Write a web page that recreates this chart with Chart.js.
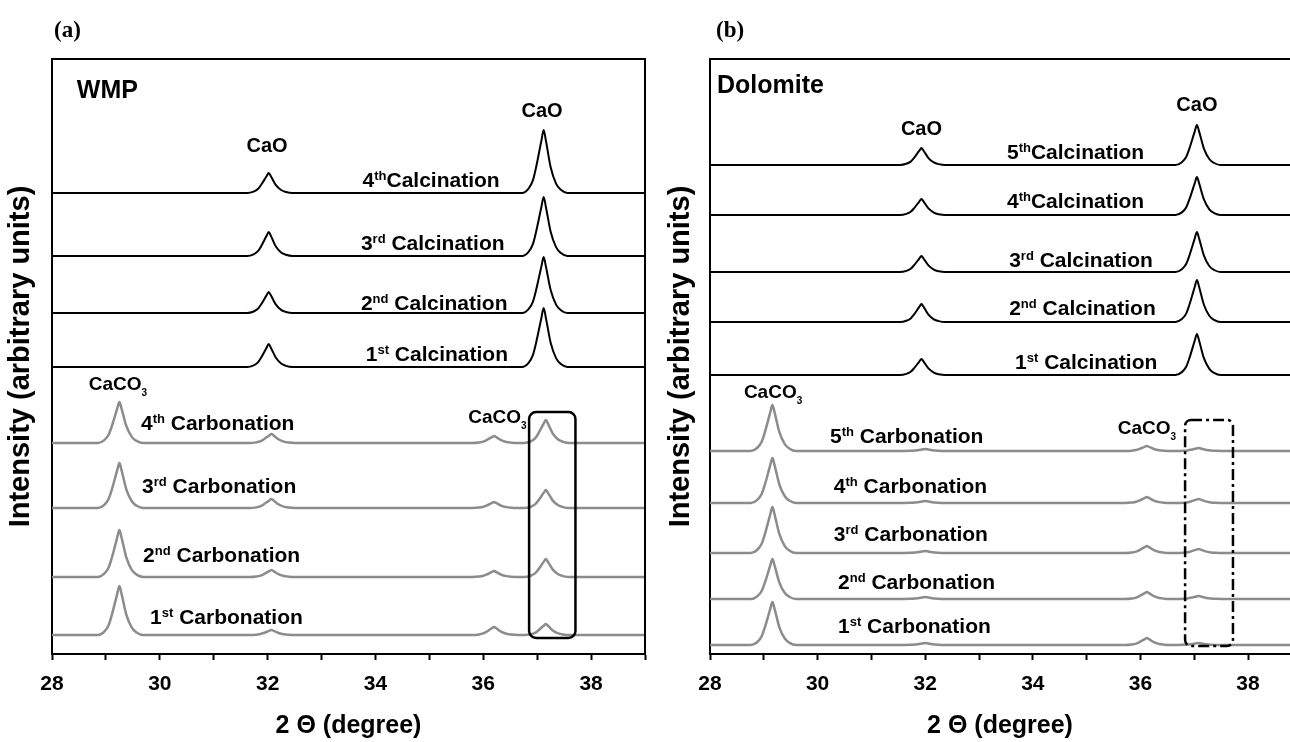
<!DOCTYPE html>
<html>
<head>
<meta charset="utf-8">
<script src="https://cdn.jsdelivr.net/npm/chart.js@4.4.0/dist/chart.umd.min.js"></script>
<style>
  body { margin: 0; background: #fff; width: 1290px; height: 742px; overflow: hidden; position: relative; }
  .panel { position: absolute; top: 0; }
  #panelA { left: 0; }
  #panelB { left: 650px; }
</style>
</head>
<body>
<div class="panel" id="panelA"><canvas id="chWmp" width="650" height="742"></canvas></div>
<div class="panel" id="panelB"><canvas id="chDolomite" width="640" height="742"></canvas></div>
<script>
/* XRD patterns after repeated calcination / carbonation cycles */
const FONT = '"Liberation Sans", Arial, sans-serif';

// 2θ of the reflections (deg)
const wmpCalcPeaks = [32.02, 37.12];
const wmpCarbPeaks = [29.25, 32.07, 36.2, 37.16];
const dolCalcPeaks = [31.93, 37.05];
const dolCarbPeaks = [29.16, 32.0, 36.12, 37.08];

// x tick values (deg)
const twoThetaTicks = [28, 29, 30, 31, 32, 33, 34, 35, 36, 37, 38, 39];

// trace names, top trace first
const wmpCalcNames = ['4^{th}Calcination', '3^{rd} Calcination', '2^{nd} Calcination', '1^{st} Calcination'];
const wmpCarbNames = ['4^{th} Carbonation', '3^{rd} Carbonation', '2^{nd} Carbonation', '1^{st} Carbonation'];
const dolCalcNames = ['5^{th}Calcination', '4^{th}Calcination', '3^{rd} Calcination', '2^{nd} Calcination', '1^{st} Calcination'];
const dolCarbNames = ['5^{th} Carbonation', '4^{th} Carbonation', '3^{rd} Carbonation', '2^{nd} Carbonation', '1^{st} Carbonation'];

// stacking offsets and peak intensities (arbitrary units)
const wmpCalcOffsets = [461, 398, 341, 287];
const wmpCalcHeights = [[20, 63], [24, 59], [21, 56], [23, 59]];
const wmpCarbOffsets = [211, 146, 77, 19];
const wmpCarbHeights = [[41, 9, 7, 23], [45, 9, 6, 18], [47, 7, 6, 18], [49, 5, 8, 11]];
const dolCalcOffsets = [489, 439, 382, 332, 279];
const dolCalcHeights = [[17, 40], [16, 38], [16, 40], [18, 42], [16, 41]];
const dolCarbOffsets = [203, 151, 101, 55, 9];
const dolCarbHeights = [[46, 2, 5, 3], [45, 2, 6, 4], [46, 2, 7, 4], [40, 2, 7, 3], [43, 2, 7, 2]];

// peak shape: distance from the maximum (deg) and relative intensity
const profileDx = [-0.4, -0.28, -0.2, -0.14, -0.04, 0, 0.04, 0.13, 0.23, 0.32, 0.44];
const profileRel = [0, 0.07, 0.2, 0.41, 0.84, 1, 0.84, 0.41, 0.15, 0.05, 0];

// where the trace names sit (2θ, intensity)
const wmpCalcNameAt = [[33.76, 467], [33.73, 404], [33.73, 344], [33.82, 293]];
const wmpCarbNameAt = [[29.65, 224], [29.67, 161], [29.69, 92], [29.82, 30]];
const dolCalcNameAt = [[33.52, 495], [33.52, 446], [33.56, 387], [33.56, 339], [33.67, 285]];
const dolCarbNameAt = [[30.23, 211], [30.30, 161], [30.30, 113], [30.38, 65], [30.38, 21]];

function makeTrace(offset, peaks, heights, xMax) {
  const pts = [{ x: 28, y: offset }];
  peaks.forEach((p, i) => {
    profileDx.forEach((d, k) => pts.push({ x: p + d, y: offset + heights[i] * profileRel[k] }));
  });
  pts.push({ x: xMax, y: offset });
  return pts;
}

function traces(offsets, peaks, heights, color, width, xMax) {
  return offsets.map((o, i) => ({
    data: makeTrace(o, peaks, heights[i], xMax),
    borderColor: color,
    borderWidth: width,
    pointRadius: 0,
    cubicInterpolationMode: 'monotone'
  }));
}

// text with ^{sup} and _{sub} runs
function drawRich(ctx, text, px, py, size, align) {
  const runs = text.split(/([\^_]\{[^}]*\})/).filter(s => s).map(s => {
    if (s[0] === '^') return { t: s.slice(2, -1), f: Math.round(size * 0.6), dy: -size * 0.33 };
    if (s[0] === '_') return { t: s.slice(2, -1), f: Math.round(size * 0.55), dy: size * 0.32 };
    return { t: s, f: size, dy: 0 };
  });
  let w = 0;
  runs.forEach(r => { ctx.font = `bold ${r.f}px ${FONT}`; r.w = ctx.measureText(r.t).width; w += r.w; });
  let cx = align === 'center' ? px - w / 2 : px;
  ctx.fillStyle = '#000';
  ctx.textAlign = 'left';
  ctx.textBaseline = 'alphabetic';
  runs.forEach(r => { ctx.font = `bold ${r.f}px ${FONT}`; ctx.fillText(r.t, cx, py + r.dy); cx += r.w; });
}

const notesPlugin = {
  id: 'notes',
  afterDatasetsDraw(chart, args, opts) {
    const { ctx, chartArea: a, scales: { x, y } } = chart;
    ctx.save();
    ctx.strokeStyle = '#000';
    ctx.lineWidth = 2;
    ctx.beginPath();
    ctx.moveTo(a.left, a.top);
    ctx.lineTo(a.right, a.top);
    if (opts.rightEdge) ctx.lineTo(a.right, a.bottom);
    ctx.stroke();

    const b = opts.box;
    const bx0 = x.getPixelForValue(b.x0), bx1 = x.getPixelForValue(b.x1);
    const by0 = y.getPixelForValue(b.y1), by1 = y.getPixelForValue(b.y0);
    ctx.lineWidth = 2.5;
    ctx.setLineDash(b.dash || []);
    ctx.beginPath();
    ctx.roundRect(bx0, by0, bx1 - bx0, by1 - by0, b.radius);
    ctx.stroke();
    ctx.setLineDash([]);

    opts.items.forEach(n => drawRich(ctx, n.text, x.getPixelForValue(n.x), y.getPixelForValue(n.y), n.size, n.align));

    ctx.font = 'bold 23px "Liberation Serif", serif';
    ctx.fillStyle = '#000';
    ctx.textBaseline = 'alphabetic';
    ctx.fillText(opts.panel, opts.panelX, 37);
    ctx.restore();
  }
};

function nameNotes(names, at) {
  return names.map((t, i) => ({ text: t, x: at[i][0], y: at[i][1], size: 21 }));
}

function xrdOptions(xMax, axisWidth, padRight, titlePad, notes) {
  return {
    responsive: false,
    animation: false,
    layout: { padding: { top: 59, right: padRight, left: 0, bottom: 0 } },
    plugins: { legend: { display: false }, tooltip: { enabled: false }, notes: notes },
    scales: {
      x: {
        type: 'linear', min: 28, max: xMax,
        afterBuildTicks: s => { s.ticks = twoThetaTicks.filter(v => v <= xMax).map(v => ({ value: v })); },
        afterFit: s => { s.height = 88; s.paddingLeft = 0; s.paddingRight = 0; },
        ticks: {
          autoSkip: false, color: '#000', padding: 12,
          font: { family: FONT, size: 21, weight: 'bold' },
          callback: v => (v % 2 === 0 ? v : '')
        },
        grid: { drawOnChartArea: false, drawTicks: true, tickLength: 6, tickColor: '#000', tickWidth: 2 },
        border: { display: true, color: '#000', width: 2 },
        title: {
          display: true, text: '2 Θ (degree)', color: '#000',
          font: { family: FONT, size: 25, weight: 'bold' }, padding: { top: 0, bottom: 1 }
        }
      },
      y: {
        min: 0, max: 595,
        afterFit: s => { s.width = axisWidth; s.paddingTop = 0; s.paddingBottom = 0; },
        ticks: { display: false },
        grid: { drawOnChartArea: false, drawTicks: false },
        border: { display: true, color: '#000', width: 2 },
        title: {
          display: true, text: 'Intensity (arbitrary units)', color: '#000',
          font: { family: FONT, size: 29, weight: 'bold' }, padding: { top: titlePad, bottom: 0 }
        }
      }
    }
  };
}

// (a) WMP
const wmpMax = 39;
new Chart(document.getElementById('chWmp'), {
  type: 'line',
  data: {
    datasets: [
      ...traces(wmpCalcOffsets, wmpCalcPeaks, wmpCalcHeights, '#000', 2, wmpMax),
      ...traces(wmpCarbOffsets, wmpCarbPeaks, wmpCarbHeights, '#8c8c8c', 2.5, wmpMax)
    ]
  },
  options: xrdOptions(wmpMax, 52, 5, 4, {
    panel: '(a)', panelX: 54, rightEdge: true,
    box: { x0: 36.85, x1: 37.71, y0: 16, y1: 242, radius: 7 },
    items: [
      { text: 'WMP', x: 28.46, y: 556, size: 25 },
      { text: 'CaO', x: 31.99, y: 502, size: 20, align: 'center' },
      { text: 'CaO', x: 37.09, y: 537, size: 20, align: 'center' },
      { text: 'CaCO_{3}', x: 28.68, y: 264, size: 19 },
      { text: 'CaCO_{3}', x: 35.72, y: 231, size: 19 },
      ...nameNotes(wmpCalcNames, wmpCalcNameAt),
      ...nameNotes(wmpCarbNames, wmpCarbNameAt)
    ]
  }),
  plugins: [notesPlugin]
});

// (b) Dolomite
const dolMax = 38.78;
new Chart(document.getElementById('chDolomite'), {
  type: 'line',
  data: {
    datasets: [
      ...traces(dolCalcOffsets, dolCalcPeaks, dolCalcHeights, '#000', 2, dolMax),
      ...traces(dolCarbOffsets, dolCarbPeaks, dolCarbHeights, '#8c8c8c', 2.5, dolMax)
    ]
  },
  options: xrdOptions(dolMax, 60, 0, 14, {
    panel: '(b)', panelX: 66, rightEdge: false,
    box: { x0: 36.83, x1: 37.72, y0: 8, y1: 234, radius: 6, dash: [11, 4, 3, 4] },
    items: [
      { text: 'Dolomite', x: 28.13, y: 561, size: 25 },
      { text: 'CaO', x: 31.93, y: 519, size: 20, align: 'center' },
      { text: 'CaO', x: 37.05, y: 543, size: 20, align: 'center' },
      { text: 'CaCO_{3}', x: 28.63, y: 256, size: 19 },
      { text: 'CaCO_{3}', x: 35.58, y: 220, size: 19 },
      ...nameNotes(dolCalcNames, dolCalcNameAt),
      ...nameNotes(dolCarbNames, dolCarbNameAt)
    ]
  }),
  plugins: [notesPlugin]
});
</script>
</body>
</html>
